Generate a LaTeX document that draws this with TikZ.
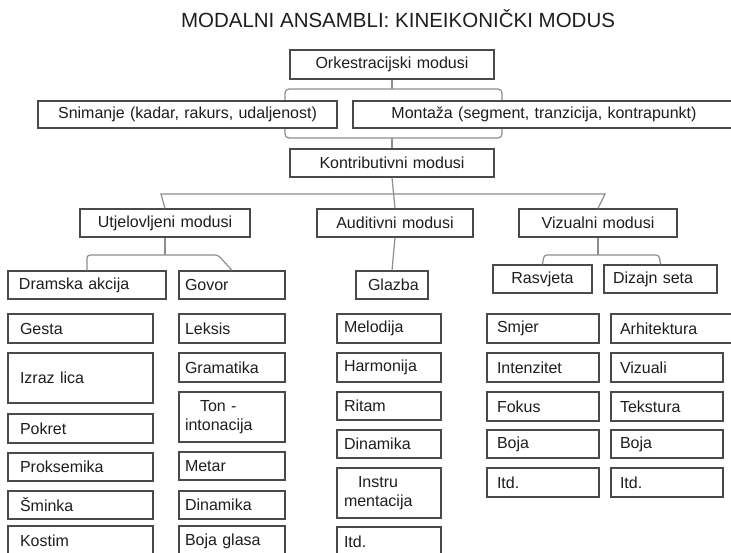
\documentclass[tikz,border=0pt]{standalone}
\usepackage{fontspec}
\setmainfont{Liberation Sans}
\definecolor{boxline}{HTML}{4A4A4A}
\definecolor{connline}{HTML}{8E8E8E}
\definecolor{txt}{HTML}{1E1E1E}
\newcommand{\mbx}[8][12]{%
  \pgfmathsetmacro\mbw{#5-#3}%
  \pgfmathsetmacro\mbh{#6-#4}%
  \pgfmathsetmacro\mtw{#5-#3-2*#1}%
  \node[box, inner xsep=#1pt, minimum width=\mbw pt, minimum height=\mbh pt, text width=\mtw pt, align=#7] (#2) at ({(#3+#5)/2},{(#4+#6)/2}) {#8};}
\begin{document}
\begin{tikzpicture}[x=1pt,y=-1pt,
  box/.style={draw=boxline, line width=1.2pt, fill=white, text=txt, inner ysep=1pt,
    font=\fontsize{16}{19}\selectfont},
  conn/.style={draw=connline, line width=1.2pt},
  title/.style={text=txt, font=\fontsize{20.5}{24}\selectfont, inner sep=0pt}]
\useasboundingbox (0,0) rectangle (731,552);
\fill[white] (0,0) rectangle (731,552);
\clip (0,0) rectangle (731,552);

\node[title, anchor=base] (ttl) at (398,27) {MODALNI ANSAMBLI: KINEIKONIČKI MODUS};

% bracket behind the two production boxes
\coordinate (brTL) at (285,89);
\coordinate (brBR) at (502,138);
\draw[conn, rounded corners=4pt] (brTL) rectangle (brBR);

\mbx{orch}{290}{50}{494}{79}{center}{Orkestracijski modusi}
\mbx{snim}{38}{101}{337}{128}{center}{Snimanje (kadar, rakurs, udaljenost)}
\mbx{mont}{353}{101}{735}{128}{center}{Montaža (segment, tranzicija, kontrapunkt)}
\mbx{kontr}{290}{149}{494}{177}{center}{Kontributivni modusi}

\draw[conn] (orch.south) -- (orch.south |- brTL);
\draw[conn] (kontr.north) -- (kontr.north |- brBR);

\mbx{utj}{80}{209}{250}{237}{center}{Utjelovljeni modusi}
\mbx{aud}{317}{209}{473}{237}{center}{Auditivni modusi}
\mbx{viz}{519}{209}{677}{237}{center}{Vizualni modusi}

\coordinate (t1L) at (161,194);
\coordinate (t1R) at (605,194);
\draw[conn] (kontr.south) -- (aud.north);
\draw[conn] (utj.north) -- (t1L) -- (t1R) -- (viz.north);

\mbx[11]{dram}{8}{271}{166}{299}{left}{Dramska akcija}
\mbx[6]{govor}{179}{271}{285}{299}{left}{Govor}
\mbx{glazba}{356}{271}{428}{299}{center}{Glazba}
\mbx{rasv}{493}{265}{592}{293}{center}{Rasvjeta}
\mbx[9]{dizajn}{604}{265}{717}{293}{left}{Dizajn seta}

\coordinate (t2L) at (87,255);
\coordinate (t2R) at (218,255);
\draw[conn, rounded corners=3pt] (dram.north) -- (t2L) -- (t2R) -- (govor.north);
\draw[conn] (utj.south) -- (utj.south |- t2L);
\draw[conn] (aud.south) -- (glazba.north);
\coordinate (t3L) at (544,255);
\coordinate (t3R) at (659,255);
\draw[conn, rounded corners=3pt] (rasv.north) -- (t3L) -- (t3R) -- (dizajn.north);
\draw[conn] (viz.south) -- (viz.south |- t3L);

% column A
\mbx{gesta}{8}{314}{153}{343}{left}{Gesta}
\mbx{izraz}{8}{353}{153}{403}{left}{Izraz lica}
\mbx{pokret}{8}{414}{153}{443}{left}{Pokret}
\mbx{proks}{8}{453}{153}{481}{left}{Proksemika}
\mbx{sminka}{8}{491}{153}{519}{left}{Šminka}
\mbx{kostim}{8}{526}{153}{556}{left}{Kostim}
% column B
\mbx[6]{leksis}{179}{314}{285}{343}{left}{Leksis}
\mbx[6]{gram}{179}{353}{285}{382}{left}{Gramatika}
\mbx[6]{ton}{179}{392}{285}{442}{left}{\hspace*{15pt}Ton -\\intonacija}
\mbx[6]{metar}{179}{452}{285}{480}{left}{Metar}
\mbx[6]{dinB}{179}{491}{285}{519}{left}{Dinamika}
\mbx[6]{bojaB}{179}{526}{285}{556}{left}{Boja glasa}
% column C
\mbx[7]{melod}{337}{314}{441}{343}{left}{Melodija}
\mbx[7]{harm}{337}{353}{441}{382}{left}{Harmonija}
\mbx[7]{ritam}{337}{392}{441}{420}{left}{Ritam}
\mbx[7]{dinC}{337}{430}{441}{458}{left}{Dinamika}
\mbx[7]{instru}{337}{468}{441}{518}{left}{\hspace*{14pt}Instru\\mentacija}
\mbx[7]{itdC}{337}{527}{441}{556}{left}{Itd.}
% column D
\mbx[10]{smjer}{487}{314}{599}{343}{left}{Smjer}
\mbx[10]{inten}{487}{353}{599}{382}{left}{Intenzitet}
\mbx[10]{fokus}{487}{392}{599}{421}{left}{Fokus}
\mbx[10]{bojaD}{487}{430}{599}{458}{left}{Boja}
\mbx[10]{itdD}{487}{468}{599}{497}{left}{Itd.}
% column E
\mbx[9]{arhi}{611}{314}{735}{343}{left}{Arhitektura}
\mbx[9]{vizuali}{611}{353}{723}{382}{left}{Vizuali}
\mbx[9]{tekst}{611}{392}{723}{421}{left}{Tekstura}
\mbx[9]{bojaE}{611}{430}{723}{458}{left}{Boja}
\mbx[9]{itdE}{611}{468}{723}{497}{left}{Itd.}
\end{tikzpicture}
\end{document}
